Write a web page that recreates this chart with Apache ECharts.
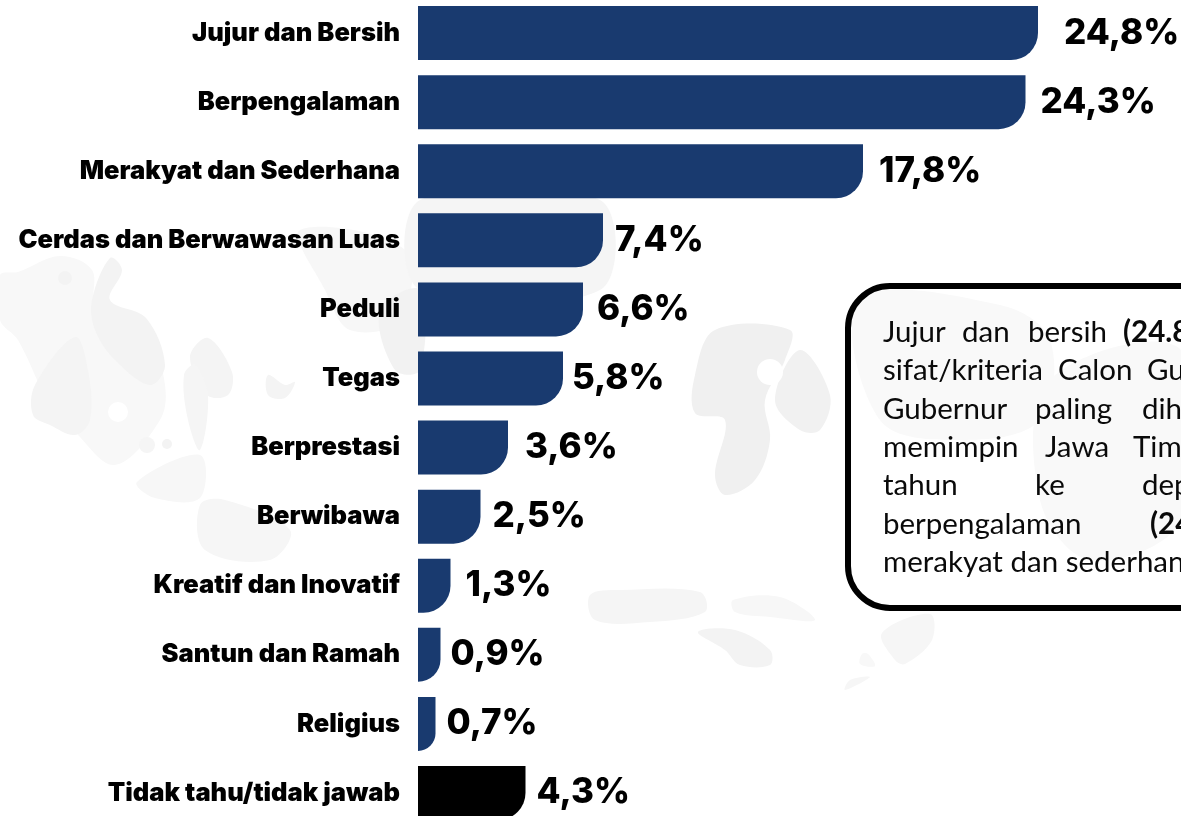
<!DOCTYPE html>
<html><head><meta charset="utf-8">
<style>html,body{margin:0;padding:0;background:#fff}#c{width:1181px;height:816px}</style>
<script src="https://cdn.jsdelivr.net/npm/echarts@6/dist/echarts.min.js"></script></head>
<body><div id="c"></div>
<script>
const categories = ['Jujur dan Bersih','Berpengalaman','Merakyat dan Sederhana','Cerdas dan Berwawasan Luas','Peduli','Tegas','Berprestasi','Berwibawa','Kreatif dan Inovatif','Santun dan Ramah','Religius','Tidak tahu/tidak jawab'];
const values = [24.8,24.3,17.8,7.4,6.6,5.8,3.6,2.5,1.3,0.9,0.7,4.3];
const labelGaps = [26,15,16,12,14,9,17,12,15,10,11,11];
const barColors = ['#193a6f','#193a6f','#193a6f','#193a6f','#193a6f','#193a6f','#193a6f','#193a6f','#193a6f','#193a6f','#193a6f','#000000'];
const FONT = 'Inter, "DejaVu Sans", sans-serif';

// Callout text, word by word (justified lines, cut by the right edge as in the source)
const calloutLines = [
  [['Jujur',883],['dan',962],['bersih',1028],['(24.8%)',1123,1]],
  [['sifat/kriteria',883],['Calon',1058],['Gubernur/Wakil',1147]],
  [['Gubernur',883],['paling',1035],['diharapkan',1142]],
  [['memimpin',883],['Jawa',1045],['Timur',1133]],
  [['tahun',883],['ke',1035],['depan,',1142]],
  [['berpengalaman',883],['(24.3%)',1150,1]],
  [['merakyat dan sederhana',883]]
];

// Faint map watermark behind the chart
const mapShapes = [
  ['#f8f8f8',[[18,272],[60,256],[92,270],[96,312],[150,345],[165,385],[160,420],[115,465],[75,432],[50,405],[18,340],[0,320],[0,275]]],
  ['#f3f3f3',[[92,300],[110,258],[122,270],[110,300],[146,318],[165,365],[150,385],[115,360],[95,330]]],
  ['#f4f4f4',[[35,385],[75,337],[88,370],[90,420],[75,435],[50,425],[33,415]]],
  ['#f4f4f4',[[190,357],[208,338],[232,372],[228,395],[207,395]]],
  ['#f5f5f5',[[184,375],[195,365],[208,395],[200,450],[188,420]]],
  ['#f4f4f4',[[268,375],[285,385],[295,382],[285,398],[268,395]]],
  ['#f7f7f7',[[137,482],[200,455],[200,498],[155,498]]],
  ['#f6f6f6',[[200,505],[225,500],[290,530],[270,560],[205,550]]],
  ['#f7f7f7',[[300,230],[405,250],[400,320],[350,330],[325,290]]],
  ['#f2f2f2',[[380,310],[420,290],[420,370],[395,370]]],
  ['#f5f5f5',[[420,200],[600,200],[600,290],[420,290]]],
  ['#f0f0f0',[[695,375],[715,330],[790,330],[785,360],[765,400],[770,440],[755,480],[725,495],[715,475],[725,420],[695,413]]],
  ['#f1f1f1',[[800,350],[830,395],[820,430],[800,430],[775,400]]],
  ['#f5f5f5',[[590,595],[620,590],[700,592],[705,612],[650,622],[595,620]]],
  ['#f7f7f7',[[733,600],[780,597],[815,620],[770,617],[735,612]]],
  ['#f3f3f3',[[698,632],[735,630],[770,650],[770,665],[740,665],[725,650]]],
  ['#f6f6f6',[[882,633],[930,614],[932,640],[905,664],[895,660]]],
  ['#f6f6f6',[[850,680],[870,677],[845,690]]],
  ['#f8f8f8',[[862,654],[868,654],[875,666],[860,664]]],
  ['#f9f9f9',[[860,300],[1000,305],[1050,340],[1040,420],[960,440],[880,420]]],
  ['#f9f9f9',[[1050,380],[1181,350],[1181,520],[1090,560],[1040,500]]]
];
const mapDots = [['#f3f3f3',65,278,7],['#f5f5f5',147,445,8],['#f3f3f3',167,444,5],['#ffffff',118,412,10],['#ffffff',770,372,13]];

const graphic = [];
mapShapes.forEach(s => graphic.push({type:'polygon',silent:true,z:-10,shape:{points:s[1],smooth:0.35},style:{fill:s[0]}}));
mapDots.forEach(d => graphic.push({type:'circle',silent:true,z:-9,shape:{cx:d[1],cy:d[2],r:d[3]},style:{fill:d[0]}}));
graphic.push({type:'rect',silent:true,z:5,shape:{x:848,y:286,width:420,height:322,r:42},style:{fill:'transparent',stroke:'#000',lineWidth:6}});
calloutLines.forEach((line,i) => line.forEach(w => graphic.push({
  type:'text',silent:true,z:6,x:w[1],y:332.5+i*38.3,
  style:{text:w[0],fill:'#0a0a0a',font:(w[2]?'700 ':'400 ')+'29.5px Lato, "Noto Sans", sans-serif',verticalAlign:'middle'}
})));

const chart = echarts.init(document.getElementById('c'),null,{renderer:'canvas'});
chart.setOption({
  animation:false,
  backgroundColor:'#fff',
  grid:{left:418,top:-1.5,width:750,height:829,containLabel:false,outerBoundsMode:'none'},
  xAxis:{type:'value',min:0,max:30,show:false},
  yAxis:{type:'category',inverse:true,data:categories,
    axisLine:{show:false},axisTick:{show:false},
    axisLabel:{margin:18,color:'#000',fontFamily:FONT,fontWeight:900,fontSize:25.5,align:'right'}},
  series:[{type:'bar',barWidth:54,
    data:values.map((v,i)=>({value:v,
      itemStyle:{color:barColors[i],borderRadius:[0,0,Math.min(27,v*25),0]},
      label:{distance:labelGaps[i]}})),
    label:{show:true,position:'right',color:'#000',fontFamily:FONT,fontWeight:800,fontSize:35,
      formatter:p=>p.value.toFixed(1).replace('.',',')+'%'}}],
  graphic:graphic
});
</script></body></html>
